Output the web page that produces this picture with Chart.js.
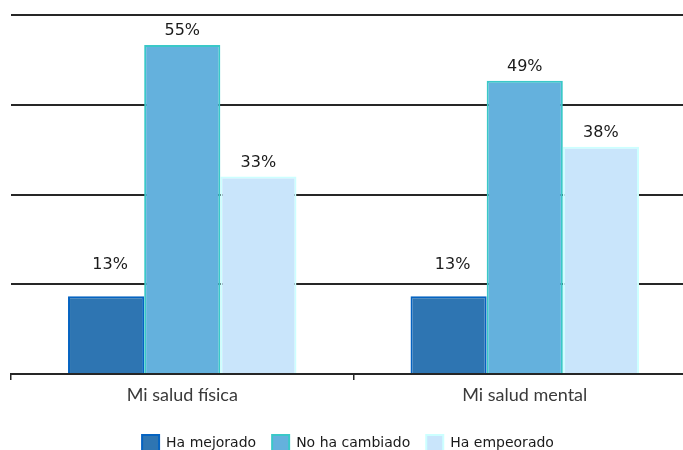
<!DOCTYPE html>
<html lang="es">
<head>
<meta charset="utf-8">
<title>Salud física y mental</title>
<script src="https://cdn.jsdelivr.net/npm/chart.js@4.4.1/dist/chart.umd.min.js"></script>
<style>
  html, body { margin: 0; padding: 0; background: #fff; overflow: hidden; }
  #wrap { position: relative; width: 696px; height: 462px; }
</style>
</head>
<body>
<div id="wrap"><canvas id="grafico"></canvas></div>
<script>
// categorías y porcentajes por respuesta
const categorias = ["Mi salud física", "Mi salud mental"];
const series = ["Ha mejorado", "No ha cambiado", "Ha empeorado"];
const haMejorado = [13, 13];
const noHaCambiado = [55, 49];
const haEmpeorado = [33, 38];
const ticksEje = [0, 15, 30, 45, 60];

const relleno = ["#2e75b2", "#64b1dd", "#c9e5fb"];
const borde = ["#0563c1", "#3ac8c8", "#ccffff"];

// etiquetas de valor encima de cada barra
const etiquetasValor = {
  id: "etiquetasValor",
  afterDatasetsDraw(chart) {
    const ctx = chart.ctx;
    const yScale = chart.scales.y;
    const minimo = yScale.getPixelForValue(18.3);
    ctx.save();
    ctx.font = "16px 'DejaVu Sans'";
    ctx.fillStyle = "#1a1a1a";
    ctx.textAlign = "center";
    ctx.textBaseline = "middle";
    chart.data.datasets.forEach((ds, i) => {
      chart.getDatasetMeta(i).data.forEach((bar, j) => {
        const y = Math.min(bar.y - 14, minimo);
        ctx.fillText(ds.data[j] + "%", bar.x + (i === 0 ? 4 : 0), y);
      });
    });
    ctx.restore();
  }
};

const datos = [haMejorado, noHaCambiado, haEmpeorado];

new Chart(document.getElementById("grafico"), {
  type: "bar",
  data: {
    labels: categorias,
    datasets: series.map((nombre, i) => ({
      label: nombre,
      data: datos[i],
      backgroundColor: relleno[i],
      borderColor: borde[i],
      borderWidth: 2,
      barPercentage: 1,
      categoryPercentage: 0.667
    }))
  },
  options: {
    responsive: true,
    maintainAspectRatio: false,
    animation: false,
    layout: { padding: { top: 15, left: 0, right: 0, bottom: 0 } },
    scales: {
      x: {
        grid: {
          display: true,
          drawOnChartArea: false,
          drawTicks: true,
          tickLength: 6,
          color: "#262626",
          lineWidth: 1.5,
          offset: true
        },
        border: { display: true, color: "#262626", width: 2 },
        ticks: {
          color: "#3a3a3a",
          font: { family: "Lato", size: 18 },
          padding: 4
        },
        afterFit(scale) { scale.height = 45; }
      },
      y: {
        min: 0,
        max: 60,
        afterBuildTicks(scale) {
          scale.ticks = ticksEje.map(v => ({ value: v }));
        },
        afterFit(scale) { scale.width = 11; },
        grid: { color: "#262626", lineWidth: 2, drawTicks: false },
        border: { display: false },
        ticks: { display: false }
      }
    },
    plugins: {
      legend: {
        position: "bottom",
        labels: {
          boxWidth: 17,
          boxHeight: 17,
          color: "#1a1a1a",
          font: { family: "DejaVu Sans", size: 14 },
          padding: 16
        }
      },
      tooltip: { enabled: false }
    }
  },
  plugins: [etiquetasValor]
});
</script>
</body>
</html>
